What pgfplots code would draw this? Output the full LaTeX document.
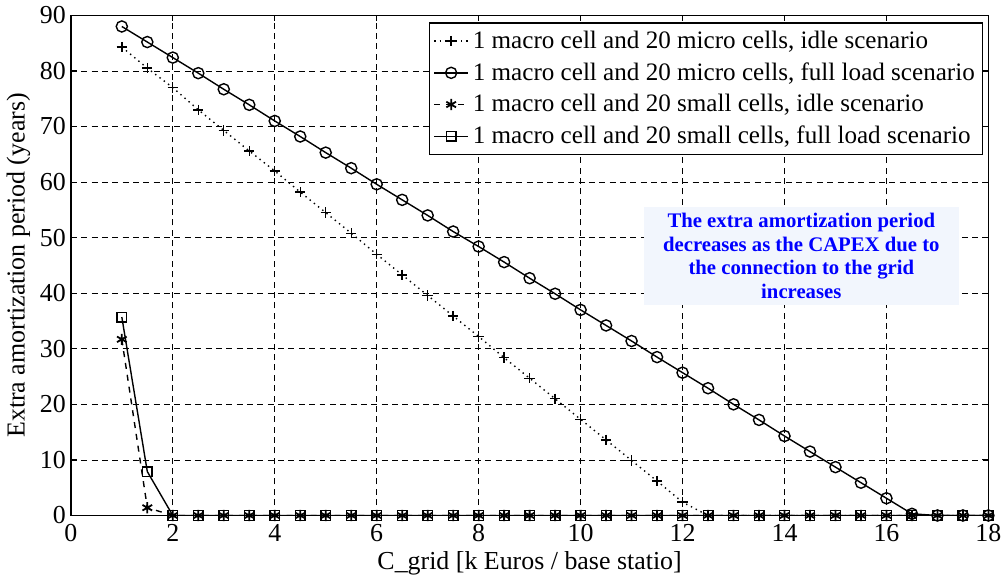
\documentclass[border=0pt]{standalone}
\usepackage{fontspec}
\setmainfont{Liberation Serif}
\usepackage{pgfplots}
\pgfplotsset{compat=1.18}
\definecolor{boxfill}{RGB}{242,246,253}

% 1 macro + 20 micro cells, idle
\pgfplotstableread{
x y
1 84.3
1.5 80.5
2 77.0
2.5 73.0
3 69.3
3.5 65.6
4 62.0
4.5 58.2
5 54.5
5.5 50.8
6 47.0
6.5 43.3
7 39.6
7.5 35.9
8 32.2
8.5 28.4
9 24.7
9.5 21.0
10 17.3
10.5 13.6
11 9.9
11.5 6.2
12 2.4
12.5 0
13 0
13.5 0
14 0
14.5 0
15 0
15.5 0
16 0
16.5 0
17 0
17.5 0
18 0
}\microidle

% 1 macro + 20 micro cells, full load
\pgfplotstableread{
x y
1 88.0
1.5 85.2
2 82.4
2.5 79.6
3 76.7
3.5 73.9
4 71.0
4.5 68.2
5 65.3
5.5 62.5
6 59.6
6.5 56.8
7 54.0
7.5 51.1
8 48.4
8.5 45.6
9 42.7
9.5 39.9
10 37.0
10.5 34.2
11 31.4
11.5 28.5
12 25.7
12.5 22.9
13 20.0
13.5 17.2
14 14.3
14.5 11.5
15 8.7
15.5 5.9
16 3.1
16.5 0.3
17 0
17.5 0
18 0
}\microfull

% 1 macro + 20 small cells, idle
\pgfplotstableread{
x y
1 31.7
1.5 1.4
2 0
2.5 0
3 0
3.5 0
4 0
4.5 0
5 0
5.5 0
6 0
6.5 0
7 0
7.5 0
8 0
8.5 0
9 0
9.5 0
10 0
10.5 0
11 0
11.5 0
12 0
12.5 0
13 0
13.5 0
14 0
14.5 0
15 0
15.5 0
16 0
16.5 0
17 0
17.5 0
18 0
}\smallidle

% 1 macro + 20 small cells, full load
\pgfplotstableread{
x y
1 35.7
1.5 7.9
2 0
2.5 0
3 0
3.5 0
4 0
4.5 0
5 0
5.5 0
6 0
6.5 0
7 0
7.5 0
8 0
8.5 0
9 0
9.5 0
10 0
10.5 0
11 0
11.5 0
12 0
12.5 0
13 0
13.5 0
14 0
14.5 0
15 0
15.5 0
16 0
16.5 0
17 0
17.5 0
18 0
}\smallfull

\begin{document}
\begin{tikzpicture}
\begin{axis}[
    scale only axis,
    width=460.5pt, height=251pt,
    xmin=0, xmax=18, ymin=0, ymax=90,
    xtick={0,2,...,18}, ytick={0,10,...,90},
    tick align=inside,
    major tick length=3pt,
    tick style={black, line width=0.5pt},
    axis line style={black, line width=0.8pt},
    grid=major,
    major grid style={black, line width=0.4pt, dash pattern=on 3pt off 2.2pt},
    tick label style={font=\fontsize{13}{15}\selectfont},
    xticklabel style={yshift=-1pt},
    yticklabel style={xshift=1pt},
    /pgf/number format/assume math mode=true,
    xlabel={C\_grid [k Euros / base statio]},
    ylabel={Extra amortization period (years)},
    label style={font=\fontsize{13}{15}\selectfont},
    xlabel style={yshift=2pt},
    ylabel style={yshift=-2pt},
    legend cell align=left,
    legend style={at={(rel axis cs:0.9945,0.986)}, anchor=north east,
        font=\fontsize{12.6}{14}\selectfont, draw=black, line width=0.6pt,
        fill=white, row sep=1.6pt, inner sep=2pt},
    every axis plot/.append style={line width=0.7pt, black},
]
\addplot[dotted, mark=+, mark size=2.6pt, mark options={solid}] table {\microidle};
\addplot[solid, mark=o, mark size=2.8pt, mark options={solid}] table {\microfull};
\addplot[dashed, mark=asterisk, mark size=2.8pt, mark options={solid, line width=0.9pt}] table {\smallidle};
\addplot[solid, mark=square, mark size=2.4pt, mark options={solid}] table {\smallfull};
\legend{1 macro cell and 20 micro cells{,} idle scenario,
        1 macro cell and 20 micro cells{,} full load scenario,
        1 macro cell and 20 small cells{,} idle scenario,
        1 macro cell and 20 small cells{,} full load scenario}
\node[fill=boxfill, draw=none, minimum width=158pt, minimum height=45pt,
      align=center, text=blue,
      font=\bfseries\fontsize{10.4}{11.8}\selectfont]
  at (axis cs:14.33,46.7) {The extra amortization period\\decreases as the CAPEX due to\\the connection to the grid\\increases};
\end{axis}
\end{tikzpicture}
\end{document}
